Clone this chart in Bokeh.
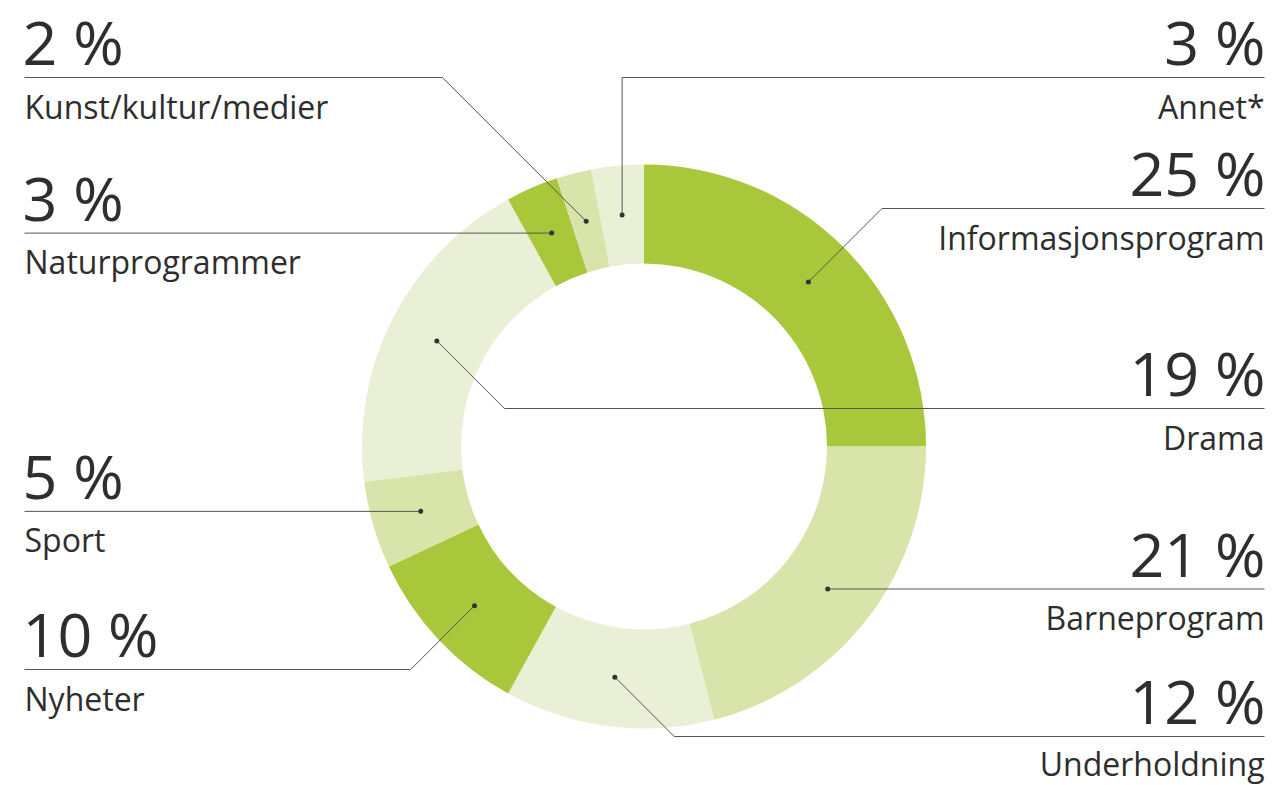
import math
from bokeh.plotting import figure
from bokeh.models import Range1d, ColumnDataSource
from bokeh.core.properties import value
from bokeh.embed import file_html
from bokeh.resources import INLINE

# ---- data ----
categories = ["Informasjonsprogram", "Barneprogram", "Underholdning", "Nyheter",
              "Sport", "Drama", "Naturprogrammer", "Kunst/kultur/medier", "Annet*"]
values = [25, 21, 12, 10, 5, 19, 3, 2, 3]
shade = ["dark", "mid", "light", "dark", "mid", "light", "dark", "mid", "light"]

# ---- layout / style ----
palette = {"dark": "#a8c73a", "mid": "#d9e4ab", "light": "#e9f0d6"}
side = ["right", "right", "right", "left", "left", "right", "left", "left", "right"]
leader = ["diag", "flat", "diag", "diag", "flat", "diag", "flat", "diag", "vert"]
line_y = [208, None, 736, 669, None, 408, None, 77, 77]   # page px (None: level with dot)

W, H = 1272, 785
CX, CY = 643.5, 446.0          # page px
R_OUT, R_IN = 282.0, 183.0
LEFT_X, RIGHT_X = 24, 1264
FONT = "Open Sans"
TXT = "#2e2e2e"
LINE = "#555555"
BIG, SMALL = 61, 32
MID = 0.388   # baseline -> middle of text box, in em

p = figure(width=W, height=H, output_backend="svg", toolbar_location=None,
           x_range=Range1d(0, W), y_range=Range1d(-H, 0),
           min_border=0, outline_line_color=None, background_fill_color="white")
p.axis.visible = False
p.grid.visible = False

total = float(sum(values))
starts, ends, cols = [], [], []
cum = 0.0
mids = []
for v, s in zip(values, shade):
    c0 = cum / total
    cum += v
    c1 = cum / total
    starts.append(math.pi / 2 - 2 * math.pi * c1)
    ends.append(math.pi / 2 - 2 * math.pi * c0)
    mids.append((c0 + c1) / 2)
    cols.append(palette[s])

src = ColumnDataSource(dict(start=starts, end=ends, color=cols,
                            x=[CX] * len(values), y=[-CY] * len(values)))
p.annular_wedge(x="x", y="y", inner_radius=R_IN, outer_radius=R_OUT,
                start_angle="start", end_angle="end", fill_color="color",
                line_color=None, source=src)

r_mid = (R_IN + R_OUT) / 2
dot_x, dot_y = [], []
for i, m in enumerate(mids):
    a = 2 * math.pi * m
    px = CX + r_mid * math.sin(a)
    py = CY - r_mid * math.cos(a)
    dot_x.append(px)
    dot_y.append(py)

    ly = line_y[i] if line_y[i] is not None else py
    sgn = 1 if side[i] == "right" else -1
    if leader[i] == "diag":
        ex = px + sgn * abs(ly - py)
    else:
        ex = px
    end_x = RIGHT_X if side[i] == "right" else LEFT_X
    p.line([px, ex, end_x], [-py, -ly, -ly], line_color=LINE, line_width=1)

    tx = RIGHT_X if side[i] == "right" else LEFT_X
    align = "right" if side[i] == "right" else "left"
    big_base = ly - 12
    small_base = min(ly + 41, H - 0.30 * SMALL)
    p.text(x=[tx + (1 if align == "right" else -2)], y=[-(big_base - MID * BIG)],
           text=[f"{values[i]} %"], text_font=value(FONT), text_font_size=f"{BIG}px",
           text_color=TXT, text_align=align, text_baseline="middle")
    p.text(x=[tx], y=[-(small_base - MID * SMALL)], text=[categories[i]],
           text_font=value(FONT), text_font_size=f"{SMALL}px", text_color=TXT,
           text_align=align, text_baseline="middle")

p.scatter(dot_x, [-y for y in dot_y], size=5, color="#333333", line_color=None)

open("out.html", "w").write(file_html(p, INLINE))
